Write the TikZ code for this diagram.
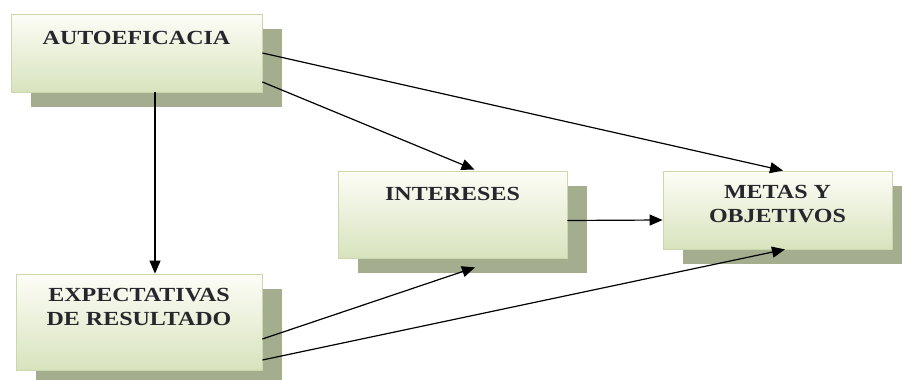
\documentclass[tikz,border=0pt]{standalone}
\usepackage{fontspec}
\setmainfont{Liberation Serif}[FakeStretch=1.2]
\usetikzlibrary{arrows.meta,shadows}
\definecolor{shadowcol}{HTML}{A4AD8E}
\definecolor{boxtop}{HTML}{FDFDF7}
\definecolor{boxbottom}{HTML}{D8E3BD}
\definecolor{boxedge}{HTML}{CBD7AC}
\definecolor{labelcol}{HTML}{26262C}
\tikzset{
  panel/.style={rectangle, draw=boxedge, line width=0.8pt, top color=boxtop,
    bottom color=boxbottom, inner sep=0pt,
    drop shadow={shadow xshift=20pt, shadow yshift=-15pt, fill=shadowcol, opacity=1}},
  caption/.style={anchor=north, inner sep=0pt, align=center, text=labelcol,
    font=\bfseries\fontsize{20}{24}\selectfont},
  arr/.style={draw=black, line width=1.2pt, -{Triangle[length=13pt,width=11pt]}}
}
\begin{document}
\begin{tikzpicture}[x=1pt, y=-1pt]
  \useasboundingbox[fill=white] (0,0) rectangle (902,380);

  % boxes
  \node[panel, minimum width=251pt, minimum height=78pt] (auto) at (136.5,53) {};
  \node[panel, minimum width=246pt, minimum height=96pt] (exp) at (139,322) {};
  \node[panel, minimum width=229pt, minimum height=87pt] (int) at (452.5,214.5) {};
  \node[panel, minimum width=229pt, minimum height=78pt] (met) at (777.5,210) {};

  % captions
  \node[caption] (autot) at ([yshift=-17pt]auto.north) {AUTOEFICACIA};
  \node[caption] (expt) at ([yshift=-14pt]exp.north) {EXPECTATIVAS\\DE RESULTADO};
  \node[caption] (intt) at ([yshift=-16pt]int.north) {INTERESES};
  \node[caption] (mett) at ([yshift=-14pt]met.north) {METAS Y\\OBJETIVOS};

  % connectors
  \draw[arr] ([xshift=18.5pt]auto.south) -- ([xshift=16pt]exp.north);
  \draw[arr] (auto.east) -- ([xshift=5.5pt]met.north);
  \draw[arr] ([yshift=-29pt]auto.east) -- ([xshift=22pt,yshift=1pt]int.north);
  \draw[arr] ([yshift=-6pt]int.east) -- ([yshift=-10pt]met.west);
  \draw[arr] ([yshift=-17pt]exp.east) -- ([xshift=22.5pt,yshift=-9pt]int.south);
  \draw[arr] ([yshift=-38pt]exp.east) -- ([xshift=7.5pt]met.south);
\end{tikzpicture}
\end{document}
